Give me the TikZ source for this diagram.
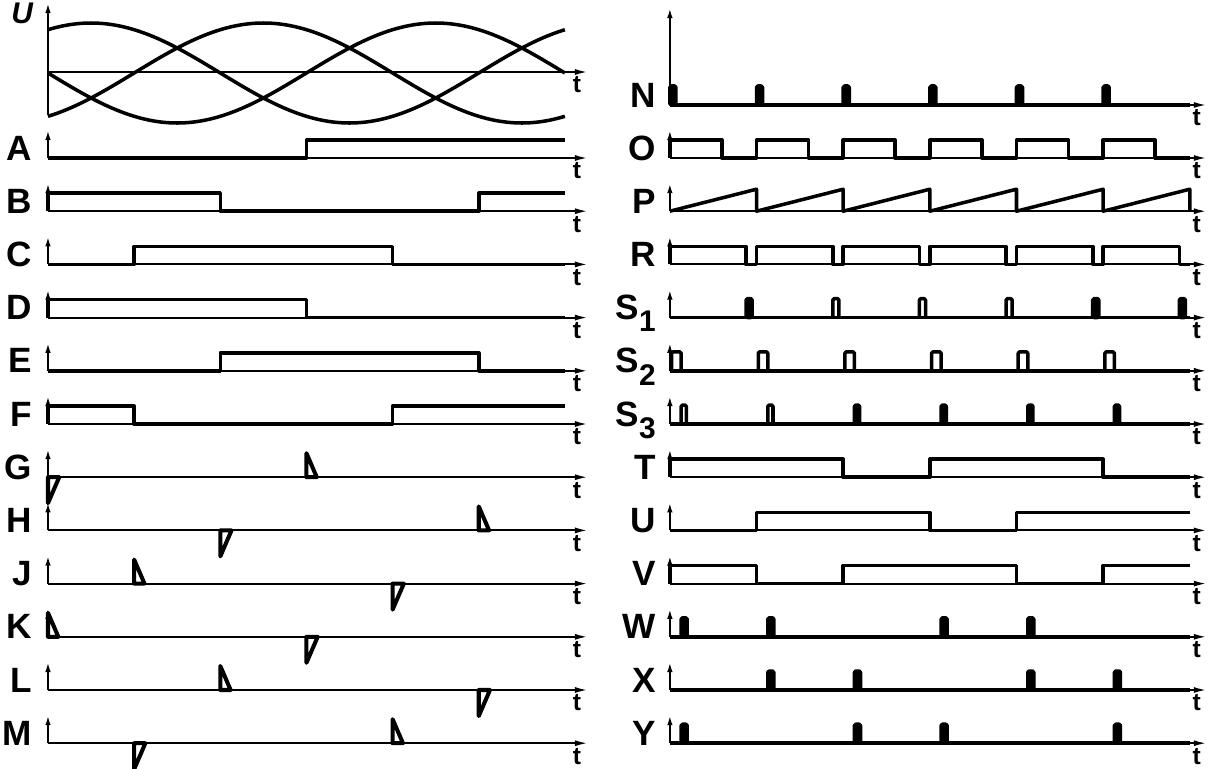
\documentclass[tikz,border=0pt]{standalone}
\usepackage{fontspec}
\setsansfont{Liberation Sans}
\usetikzlibrary{arrows.meta}

\tikzset{
    ax/.style={line width=1.1pt, -{Latex[length=2.6mm,width=1.2mm]}},
    yax/.style={line width=1.1pt, -{Latex[length=2mm,width=1.1mm]}},
    sig/.style={line width=2pt, line join=round},
    spk/.style={line width=2.3pt, line join=round},
    lbl/.style={font=\sffamily\bfseries\fontsize{20}{24}\selectfont, anchor=base east, inner sep=0pt},
    tlbl/.style={font=\sffamily\bfseries\fontsize{14}{16}\selectfont, inner sep=0pt},
}

\newcommand{\spikeup}[2]{\draw[spk] (#1,#2) -- (#1,#2-24) -- (#1+0.12,#2) -- cycle;}
\newcommand{\spikedn}[2]{\draw[spk] (#1,#2) -- (#1,#2+26) -- (#1+0.13,#2) -- cycle;}
\newcommand{\opulse}[3]{\draw[sig, rounded corners=0.8pt] (#1,#3) -- (#1,#3-19) -- (#1+#2,#3-19) -- (#1+#2,#3);}
\newcommand{\fpulse}[3]{\filldraw[sig, rounded corners=0.8pt] (#1,#3) rectangle (#1+#2,#3-19);}
\newcommand{\sidx}[1]{S\raisebox{-7pt}{\fontsize{17}{17}\selectfont #1}}

\begin{document}
\begin{tikzpicture}[x=0.02cm, y=-0.02cm]
    \useasboundingbox (0,0) rectangle (1219,768);

    % left column
    \begin{scope}[xshift=0.96cm, x=1.7234cm]
        \draw[yax] (0,115) -- (0,3);
        \draw[ax] (0,72) -- (6.267,72);
        \node[lbl, font=\sffamily\bfseries\itshape\fontsize{17}{20}\selectfont] (lU) at (-0.17,23) {U};
        \node[tlbl] (tU) at (6.14,85) {t};
        \foreach \n/\b in {A/158, B/211.2, C/264.4, D/317.6, E/370.8, F/424,
                           G/477.2, H/530.4, J/583.6, K/636.8, L/690, M/743.2} {
            \draw[ax] (0,\b) -- (6.267,\b);
            \draw[yax] (0,\b) -- (0,\b-28);
            \node[lbl] (l\n) at (-0.18,\b+2) {\n};
            \node[tlbl] (t\n) at (6.14,\b+13) {t};
        }
        \foreach \ph in {60,180,300} {
            \draw[sig] plot[domain=0:6, samples=73, smooth] (\x, {73-50*sin(60*\x+\ph)});
        }

        \draw[sig] (0,158) -- (3,158) -- (3,140) -- (6,140);
        \draw[sig] (0,211.2) -- (0,193.2) -- (2,193.2) -- (2,211.2) -- (5,211.2) -- (5,193.2) -- (6,193.2);
        \draw[sig] (0,264.4) -- (1,264.4) -- (1,246.4) -- (4,246.4) -- (4,264.4) -- (6,264.4);
        \draw[sig] (0,317.6) -- (0,299.6) -- (3,299.6) -- (3,317.6) -- (6,317.6);
        \draw[sig] (0,370.8) -- (2,370.8) -- (2,352.8) -- (5,352.8) -- (5,370.8) -- (6,370.8);
        \draw[sig] (0,424) -- (0,406) -- (1,406) -- (1,424) -- (4,424) -- (4,406) -- (6,406);

        \spikedn{0}{477.2} \spikeup{3}{477.2}
        \spikedn{2}{530.4} \spikeup{5}{530.4}
        \spikeup{1}{583.6} \spikedn{4}{583.6}
        \spikeup{0}{636.8} \spikedn{3}{636.8}
        \spikeup{2}{690}   \spikedn{5}{690}
        \spikedn{1}{743.2} \spikeup{4}{743.2}
    \end{scope}

    % right column
    \begin{scope}[xshift=13.4cm, x=1.7334cm]
        \draw[yax] (0,105) -- (0,8);
        \draw[ax] (0,105) -- (6.196,105);
        \node[lbl] (rN) at (-0.16,107) {N};
        \node[tlbl] (rtN) at (6.08,118) {t};
        \foreach \n/\s/\b in {O/O/158, P/P/211.2, R/R/264.4,
                              S1/{\sidx{1}}/317.6, S2/{\sidx{2}}/370.8, S3/{\sidx{3}}/424,
                              T/T/477.2, U/U/530.4, V/V/583.6, W/W/636.8, X/X/690, Y/Y/743.2} {
            \draw[ax] (0,\b) -- (6.196,\b);
            \draw[yax] (0,\b) -- (0,\b-28);
            \node[lbl] (r\n) at (-0.16,\b+2) {\s};
            \node[tlbl] (rt\n) at (6.08,\b+13) {t};
        }

        % N
        \draw[sig] (0,105) -- (6,105);
        \foreach \k in {0,...,5} {\fpulse{\k}{0.07}{105}}
        % O
        \draw[sig] (0,158) \foreach \k in {0,...,5} { -- (\k,140) -- (\k+0.6,140) -- (\k+0.6,158) -- (\k+1,158) };
        % P
        \draw[sig] (0,211.2) \foreach \k in {0,...,5} { -- (\k+1,189.2) -- (\k+1,211.2) };
        % R
        \draw[sig] (0,264.4) \foreach \k in {0,...,5} { -- (\k,246.4) -- (\k+0.88,246.4) -- (\k+0.88,264.4) -- (\k+1,264.4) };
        % S1
        \draw[sig] (0,317.6) -- (6,317.6);
        \foreach \k in {0,4,5} {\fpulse{\k+0.88}{0.07}{317.6}}
        \foreach \k in {1,2,3} {\opulse{\k+0.88}{0.07}{317.6}}
        % S2
        \draw[sig] (0,370.8) -- (6,370.8);
        \foreach \k in {0,...,5} {\opulse{\k+0.02}{0.11}{370.8}}
        % S3
        \draw[sig] (0,424) -- (6,424);
        \foreach \k in {0,1} {\opulse{\k+0.13}{0.06}{424}}
        \foreach \k in {2,...,5} {\fpulse{\k+0.13}{0.06}{424}}
        % T, U, V
        \draw[sig] (0,477.2) -- (0,459.2) -- (2,459.2) -- (2,477.2) -- (3,477.2) -- (3,459.2) -- (5,459.2) -- (5,477.2) -- (6,477.2);
        \draw[sig] (0,530.4) -- (1,530.4) -- (1,512.4) -- (3,512.4) -- (3,530.4) -- (4,530.4) -- (4,512.4) -- (6,512.4);
        \draw[sig] (0,583.6) -- (0,565.6) -- (1,565.6) -- (1,583.6) -- (2,583.6) -- (2,565.6) -- (4,565.6) -- (4,583.6) -- (5,583.6) -- (5,565.6) -- (6,565.6);
        % W, X, Y
        \draw[sig] (0,636.8) -- (6,636.8);
        \foreach \k in {0,1,3,4} {\fpulse{\k+0.13}{0.07}{636.8}}
        \draw[sig] (0,690) -- (6,690);
        \foreach \k in {1,2,4,5} {\fpulse{\k+0.13}{0.07}{690}}
        \draw[sig] (0,743.2) -- (6,743.2);
        \foreach \k in {0,2,3,5} {\fpulse{\k+0.13}{0.07}{743.2}}
    \end{scope}
\end{tikzpicture}
\end{document}
